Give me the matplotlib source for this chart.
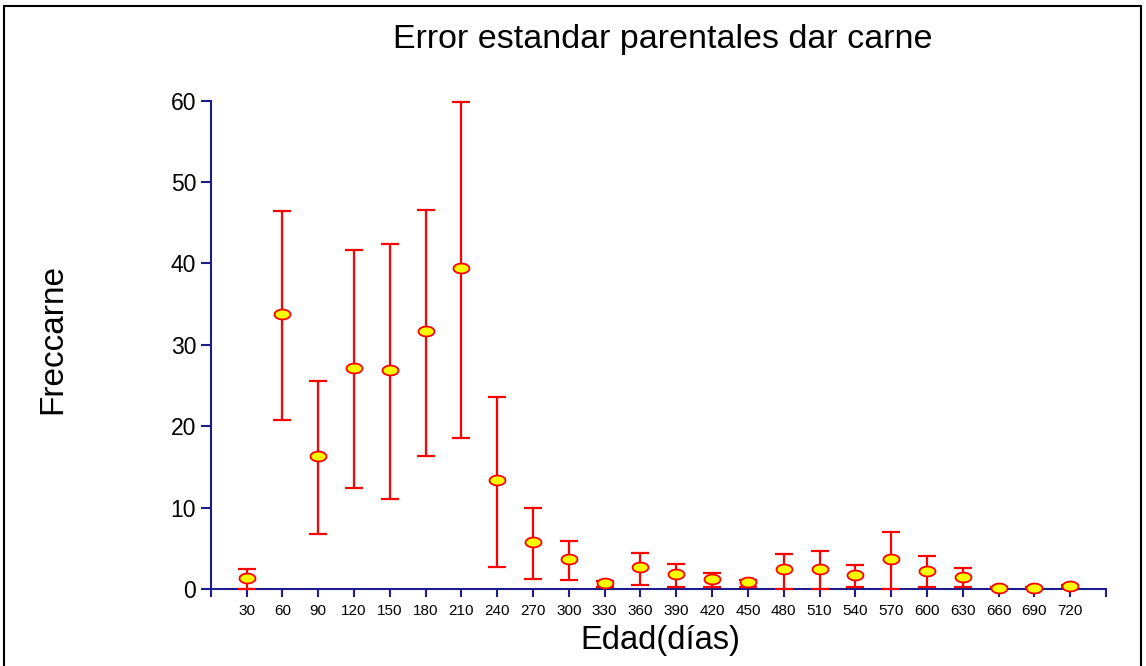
import numpy as np
import matplotlib
matplotlib.use("Agg")
import matplotlib.pyplot as plt
from matplotlib.path import Path
from matplotlib.patches import Rectangle

# Edad (dias) y valores
edad = [30, 60, 90, 120, 150, 180, 210, 240, 270, 300, 330, 360,
        390, 420, 450, 480, 510, 540, 570, 600, 630, 660, 690, 720]
media = [1.4, 33.8, 16.4, 27.2, 26.9, 31.7, 39.4, 13.4, 5.8, 3.7, 0.7, 2.7,
         1.8, 1.2, 0.9, 2.4, 2.5, 1.7, 3.7, 2.2, 1.5, 0.15, 0.15, 0.35]
superior = [2.4, 46.4, 25.6, 41.6, 42.4, 46.6, 59.8, 23.6, 9.9, 5.9, 1.0, 4.4,
            3.1, 2.0, 1.1, 4.3, 4.7, 3.0, 7.0, 4.0, 2.6, 0.2, 0.2, 0.5]
inferior = [0.0, 20.8, 6.8, 12.4, 11.0, 16.4, 18.5, 2.7, 1.2, 1.1, 0.3, 0.5,
            0.2, 0.2, 0.25, 0.0, 0.0, 0.3, 0.0, 0.2, 0.2, 0.1, 0.1, 0.2]
y_ticks = [0, 10, 20, 30, 40, 50, 60]

plt.rcParams['font.family'] = ['Liberation Sans', 'DejaVu Sans']
azul = '#1c1c8c'

fig = plt.figure(figsize=(11.46, 6.66), dpi=100)
ax = fig.add_axes([0.1839, 0.1156, 0.9651 - 0.1839, 0.8488 - 0.1156])

media = np.array(media)
err = [media - np.array(inferior), np.array(superior) - media]

# marcador eliptico
t = np.linspace(0, 2 * np.pi, 50)
elipse = Path(np.column_stack([np.cos(t), 0.62 * np.sin(t)]), closed=True)

ax.errorbar(edad, media, yerr=err, fmt='none', ecolor='red', elinewidth=1.6,
            capsize=6.8, capthick=1.6, zorder=5, clip_on=False)
ax.plot(edad, media, linestyle='none', marker=elipse, markersize=11.5,
        markerfacecolor='yellow', markeredgecolor='red', markeredgewidth=1.3,
        zorder=6, clip_on=False)

ax.set_xlim(0, 750)
ax.set_ylim(0, 60)
xt = list(range(0, 751, 30))
ax.set_xticks(xt)
ax.set_xticklabels([str(v) if v in edad else '' for v in xt], fontsize=11)
ax.set_yticks(y_ticks)
ax.set_yticklabels([str(v) for v in y_ticks], fontsize=16.5)

for s in ['top', 'right']:
    ax.spines[s].set_visible(False)
for s in ['left', 'bottom']:
    ax.spines[s].set_color(azul)
    ax.spines[s].set_linewidth(1.5)
ax.tick_params(axis='x', direction='out', length=6, width=1.5, color=azul, pad=5)
ax.tick_params(axis='y', direction='out', length=7.5, width=1.5, color=azul, pad=3)

fig.text(0.578, 0.94, 'Error estandar parentales dar carne', ha='center', va='center',
         fontsize=24.5)
fig.text(0.576, 0.039, 'Edad(días)', ha='center', va='center', fontsize=23.5)
fig.text(0.046, 0.491, 'Freccarne', ha='center', va='center', rotation=90,
         fontsize=24)

# marco exterior
fig.add_artist(Rectangle((4 / 1146, -0.05), 1137 / 1146, 1.05 - 6 / 666, transform=fig.transFigure,
                         fill=False, edgecolor='black', linewidth=1.5))

fig.savefig('out.png', dpi=100)
